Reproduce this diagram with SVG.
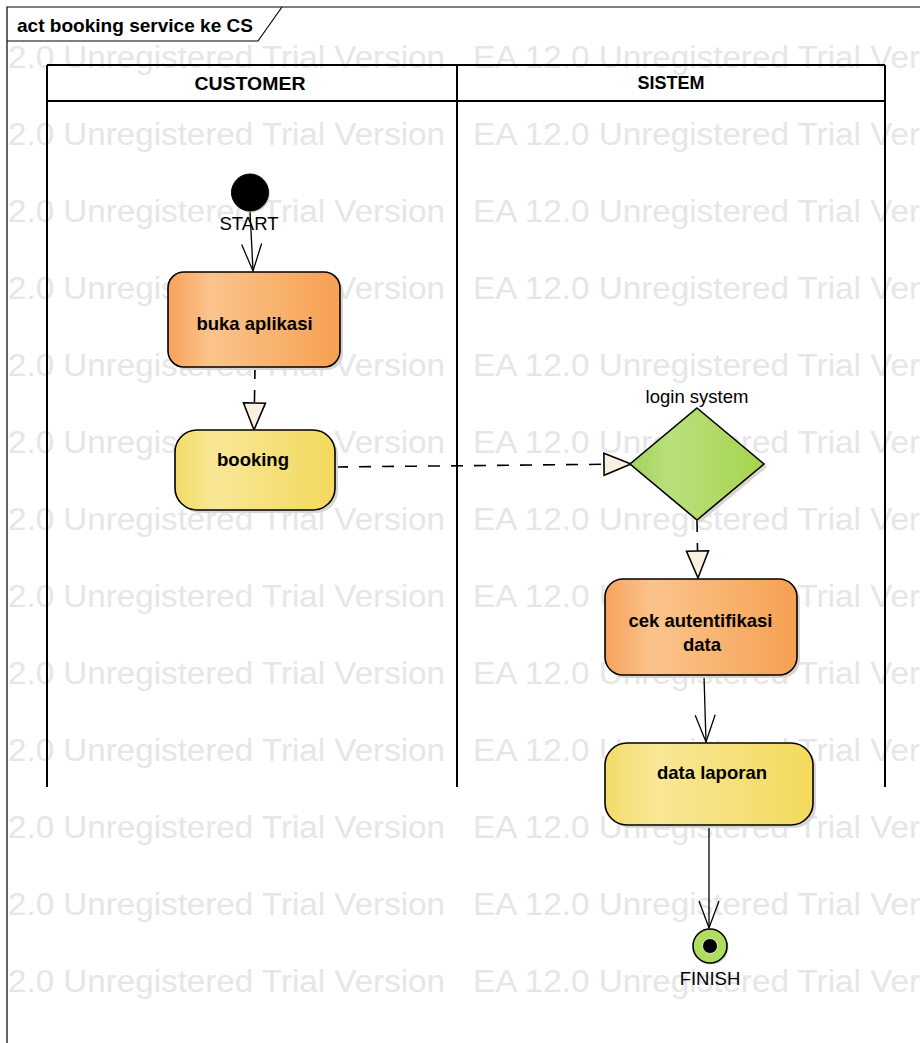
<svg xmlns="http://www.w3.org/2000/svg" width="920" height="1043" viewBox="0 0 920 1043">
<defs>
<style>
.wm{font-family:"Liberation Sans",Arial,sans-serif;font-size:31px;fill:#e6e6e6}
.lbl{font-family:"Liberation Sans",Arial,sans-serif;font-size:18.5px;fill:#000}
.b{font-weight:bold}
.node{stroke:#000;stroke-width:1.6}
.shadow{fill:#d9d5d0}
.lane{stroke:#000;stroke-width:2;fill:none}
.solid{stroke:#000;stroke-width:1.3;fill:none}
.dash{stroke:#000;stroke-width:1.6;fill:none;stroke-dasharray:12 11}
</style>
<linearGradient id="gOr" x1="0" y1="0" x2="1" y2="0">
<stop offset="0" stop-color="#f6a25c"/>
<stop offset="0.25" stop-color="#fbc48c"/>
<stop offset="1" stop-color="#f6a052"/>
</linearGradient>
<linearGradient id="gYe" x1="0" y1="0" x2="1" y2="0">
<stop offset="0" stop-color="#f3db68"/>
<stop offset="0.25" stop-color="#f8e797"/>
<stop offset="1" stop-color="#f3d95c"/>
</linearGradient>
<linearGradient id="gGr" x1="0" y1="0" x2="1" y2="0">
<stop offset="0" stop-color="#a3d35a"/>
<stop offset="0.3" stop-color="#bae07e"/>
<stop offset="1" stop-color="#a6d44c"/>
</linearGradient>
<marker id="open" markerUnits="userSpaceOnUse" markerWidth="40" markerHeight="30" viewBox="-30 -15 32 30" refX="0" refY="0" orient="auto" overflow="visible">
<path d="M-27,-10 L0,0 L-27,10" fill="none" stroke="#000" stroke-width="1.3" stroke-dasharray="none"/>
</marker>
<marker id="hollow" markerUnits="userSpaceOnUse" markerWidth="40" markerHeight="30" viewBox="-30 -15 32 30" refX="0" refY="0" orient="auto" overflow="visible">
<path d="M-27,-11 L0,0 L-27,11 Z" fill="#fbf0e0" stroke="#000" stroke-width="1.6" stroke-dasharray="none"/>
</marker>
</defs>
<rect width="920" height="1043" fill="#fff"/>
<g id="watermark" class="wm">
<text x="8" y="68" textLength="437" lengthAdjust="spacingAndGlyphs">2.0 Unregistered Trial Version</text>
<text x="473" y="68" textLength="508" lengthAdjust="spacingAndGlyphs">EA 12.0 Unregistered Trial Version</text>
<text x="8" y="145" textLength="437" lengthAdjust="spacingAndGlyphs">2.0 Unregistered Trial Version</text>
<text x="473" y="145" textLength="508" lengthAdjust="spacingAndGlyphs">EA 12.0 Unregistered Trial Version</text>
<text x="8" y="222" textLength="437" lengthAdjust="spacingAndGlyphs">2.0 Unregistered Trial Version</text>
<text x="473" y="222" textLength="508" lengthAdjust="spacingAndGlyphs">EA 12.0 Unregistered Trial Version</text>
<text x="8" y="299" textLength="437" lengthAdjust="spacingAndGlyphs">2.0 Unregistered Trial Version</text>
<text x="473" y="299" textLength="508" lengthAdjust="spacingAndGlyphs">EA 12.0 Unregistered Trial Version</text>
<text x="8" y="376" textLength="437" lengthAdjust="spacingAndGlyphs">2.0 Unregistered Trial Version</text>
<text x="473" y="376" textLength="508" lengthAdjust="spacingAndGlyphs">EA 12.0 Unregistered Trial Version</text>
<text x="8" y="453" textLength="437" lengthAdjust="spacingAndGlyphs">2.0 Unregistered Trial Version</text>
<text x="473" y="453" textLength="508" lengthAdjust="spacingAndGlyphs">EA 12.0 Unregistered Trial Version</text>
<text x="8" y="530" textLength="437" lengthAdjust="spacingAndGlyphs">2.0 Unregistered Trial Version</text>
<text x="473" y="530" textLength="508" lengthAdjust="spacingAndGlyphs">EA 12.0 Unregistered Trial Version</text>
<text x="8" y="607" textLength="437" lengthAdjust="spacingAndGlyphs">2.0 Unregistered Trial Version</text>
<text x="473" y="607" textLength="508" lengthAdjust="spacingAndGlyphs">EA 12.0 Unregistered Trial Version</text>
<text x="8" y="684" textLength="437" lengthAdjust="spacingAndGlyphs">2.0 Unregistered Trial Version</text>
<text x="473" y="684" textLength="508" lengthAdjust="spacingAndGlyphs">EA 12.0 Unregistered Trial Version</text>
<text x="8" y="761" textLength="437" lengthAdjust="spacingAndGlyphs">2.0 Unregistered Trial Version</text>
<text x="473" y="761" textLength="508" lengthAdjust="spacingAndGlyphs">EA 12.0 Unregistered Trial Version</text>
<text x="8" y="838" textLength="437" lengthAdjust="spacingAndGlyphs">2.0 Unregistered Trial Version</text>
<text x="473" y="838" textLength="508" lengthAdjust="spacingAndGlyphs">EA 12.0 Unregistered Trial Version</text>
<text x="8" y="915" textLength="437" lengthAdjust="spacingAndGlyphs">2.0 Unregistered Trial Version</text>
<text x="473" y="915" textLength="508" lengthAdjust="spacingAndGlyphs">EA 12.0 Unregistered Trial Version</text>
<text x="8" y="992" textLength="437" lengthAdjust="spacingAndGlyphs">2.0 Unregistered Trial Version</text>
<text x="473" y="992" textLength="508" lengthAdjust="spacingAndGlyphs">EA 12.0 Unregistered Trial Version</text>
</g>
<g id="frame">
<path d="M7,1043 V7 H920" fill="none" stroke="#000" stroke-width="1.2"/>
<path d="M7,41 H258 L282,7" fill="none" stroke="#000" stroke-width="1.2"/>
<text class="lbl b" x="17" y="32" font-size="18" textLength="236" lengthAdjust="spacingAndGlyphs">act booking service ke CS</text>
</g>
<g id="lanes">
<path class="lane" d="M47,65 H885 M47,101 H885 M47,65 V787 M457,65 V787 M885,65 V787"/>
<text class="lbl b" x="250" y="90" font-size="17" text-anchor="middle" textLength="111" lengthAdjust="spacingAndGlyphs">CUSTOMER</text>
<text class="lbl b" x="671" y="89" font-size="17" text-anchor="middle" textLength="67" lengthAdjust="spacingAndGlyphs">SISTEM</text>
</g>
<g id="connectors">
<path class="solid" d="M250,211 L253,271" marker-end="url(#open)"/>
<path class="dash" d="M255,367 L254,430" marker-end="url(#hollow)"/>
<path class="dash" d="M336,467 L631,464" marker-end="url(#hollow)"/>
<path class="dash" d="M697,520 L698,578" marker-end="url(#hollow)"/>
<path class="solid" d="M704,676 L706,742" marker-end="url(#open)"/>
<path class="solid" d="M709,826 L709,928" marker-end="url(#open)"/>
</g>
<g id="start">
<circle cx="251.5" cy="194" r="18.5" class="shadow"/>
<circle cx="250" cy="192.5" r="18.5" fill="#000" stroke="#000" stroke-width="1"/>
<text class="lbl" x="249" y="230" text-anchor="middle">START</text>
</g>
<g id="buka-aplikasi">
<rect x="171" y="275" width="172" height="95" rx="16" class="shadow"/>
<rect x="168" y="272" width="172" height="95" rx="16" fill="url(#gOr)" class="node"/>
<text class="lbl b" x="254.5" y="330" text-anchor="middle">buka aplikasi</text>
</g>
<g id="booking">
<rect x="178" y="433" width="160" height="80" rx="22" class="shadow"/>
<rect x="175" y="430" width="160" height="80" rx="22" fill="url(#gYe)" class="node"/>
<text class="lbl b" x="253" y="465.5" text-anchor="middle">booking</text>
</g>
<g id="login-system">
<polygon points="700,411 767,467 700,523 633,467" class="shadow"/>
<polygon points="697,408 764,464 697,520 630,464" fill="url(#gGr)" class="node"/>
<text class="lbl" x="697" y="403" text-anchor="middle">login system</text>
</g>
<g id="cek-autentifikasi-data">
<rect x="608" y="582" width="192" height="96" rx="18" class="shadow"/>
<rect x="605" y="579" width="192" height="96" rx="18" fill="url(#gOr)" class="node"/>
<text class="lbl b" x="700.5" y="626.5" text-anchor="middle">cek autentifikasi</text>
<text class="lbl b" x="702" y="650.5" text-anchor="middle">data</text>
</g>
<g id="data-laporan">
<rect x="608" y="746" width="208" height="82" rx="22" class="shadow"/>
<rect x="605" y="743" width="208" height="82" rx="22" fill="url(#gYe)" class="node"/>
<text class="lbl b" x="712" y="778.5" text-anchor="middle">data laporan</text>
</g>
<g id="finish">
<circle cx="711.5" cy="947.5" r="17" class="shadow"/>
<circle cx="710" cy="946" r="17" fill="#b0dc62" class="node"/>
<circle cx="710" cy="946" r="7.5" fill="#000" stroke="#fff" stroke-width="0.8"/>
<text class="lbl" x="710" y="985" text-anchor="middle">FINISH</text>
</g>
</svg>
